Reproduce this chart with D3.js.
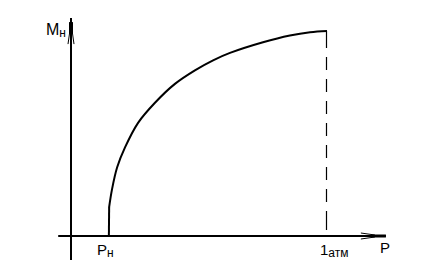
<!DOCTYPE html>
<html>
<head>
<meta charset="utf-8">
<script src="https://cdn.jsdelivr.net/npm/d3@7"></script>
<style>
  body { margin: 0; background: #fff; }
  text { font-family: "Liberation Sans", Arial, sans-serif; fill: #000; }
</style>
</head>
<body>
<script>
// curve M(P) (P in atm fractions, M normalised to max)
var curveP = [0.148, 0.149, 0.160, 0.180, 0.211, 0.262, 0.328, 0.406, 0.484, 0.555, 0.621, 0.750, 0.855, 0.934, 1.0];
var curveM = [0, 0.141, 0.226, 0.334, 0.432, 0.552, 0.650, 0.742, 0.808, 0.857, 0.893, 0.945, 0.978, 0.994, 1.0];
var tickP = [0.148, 1.0];
var tickMain = ["P", "1"];
var tickSub = ["н", "атм"];
var yLabel = ["M", "н"];
var xLabel = "P";

var width = 430, height = 269;

var svg = d3.select("body").append("svg")
    .attr("width", width)
    .attr("height", height);

var x = d3.scaleLinear()
    .domain([0, 1])
    .range([71, 327]);

var y = d3.scaleLinear()
    .domain([0, 1])
    .range([236, 31]);

var data = curveP.map(function(p, i) { return {p: p, m: curveM[i]}; });

var line = d3.line()
    .x(function(d) { return x(d.p); })
    .y(function(d) { return y(d.m); })
    .curve(d3.curveCatmullRom.alpha(0.5));

var straight = d3.line()
    .x(function(d) { return x(d.p); })
    .y(function(d) { return y(d.m); });

// x axis
svg.append("line")
    .attr("x1", x(-0.05)).attr("x2", x(1.23))
    .attr("y1", y(0)).attr("y2", y(0))
    .attr("stroke", "#000").attr("stroke-width", 2);

// y axis
svg.append("line")
    .attr("x1", x(0)).attr("x2", x(0))
    .attr("y1", y(-0.117)).attr("y2", y(1.063))
    .attr("stroke", "#000").attr("stroke-width", 2);

// arrowheads (thick tip + two thin wings)
var ax = x(1.23), ay = y(0);
svg.append("line")
    .attr("x1", ax - 14).attr("x2", ax).attr("y1", ay).attr("y2", ay)
    .attr("stroke", "#000").attr("stroke-width", 3);
svg.append("path")
    .attr("d", "M" + (ax - 25) + "," + (ay - 3) + "L" + (ax - 11) + "," + (ay - 1) +
               "M" + (ax - 25) + "," + (ay + 3) + "L" + (ax - 11) + "," + (ay + 1))
    .attr("fill", "none").attr("stroke", "#000").attr("stroke-width", 1);

var bx = x(0), by = y(1.063);
svg.append("line")
    .attr("x1", bx).attr("x2", bx).attr("y1", by + 4).attr("y2", by + 15)
    .attr("stroke", "#000").attr("stroke-width", 4);
svg.append("path")
    .attr("d", "M" + (bx - 3) + "," + (by + 26) + "L" + (bx - 1) + "," + (by + 12) +
               "M" + (bx + 3) + "," + (by + 26) + "L" + (bx + 1) + "," + (by + 12))
    .attr("fill", "none").attr("stroke", "#000").attr("stroke-width", 1);

// dashed drop line at 1 atm
svg.append("line")
    .attr("x1", x(1) - 0.5).attr("x2", x(1) - 0.5)
    .attr("y1", y(1)).attr("y2", y(0))
    .attr("stroke", "#000").attr("stroke-width", 1.2)
    .attr("stroke-dasharray", "17,9,13,9,13,9,13,9,13,9,13,9,13,9,13,9,19");

// curve: straight rise from Pн, then the smooth part
svg.append("path")
    .datum(data.slice(0, 2))
    .attr("fill", "none")
    .attr("stroke", "#000")
    .attr("stroke-width", 2)
    .attr("d", straight);

svg.append("path")
    .datum(data.slice(1))
    .attr("fill", "none")
    .attr("stroke", "#000")
    .attr("stroke-width", 2)
    .attr("d", line);

// tick labels
var ticks = svg.selectAll(".tick")
    .data(tickP)
    .enter().append("text")
    .attr("class", "tick")
    .attr("x", function(d, i) { return x(d) - (i === 0 ? 12 : 7); })
    .attr("y", 255);
ticks.append("tspan")
    .attr("font-size", 15)
    .text(function(d, i) { return tickMain[i]; });
ticks.append("tspan")
    .attr("font-size", 12)
    .attr("dy", 2)
    .text(function(d, i) { return tickSub[i]; });

// axis titles
var yt = svg.append("text").attr("x", 46).attr("y", 35);
yt.append("tspan").attr("font-size", 16).text(yLabel[0]);
yt.append("tspan").attr("font-size", 12).attr("dy", 2).text(yLabel[1]);

svg.append("text")
    .attr("x", 380).attr("y", 253)
    .attr("font-size", 15)
    .text(xLabel);
</script>
</body>
</html>
